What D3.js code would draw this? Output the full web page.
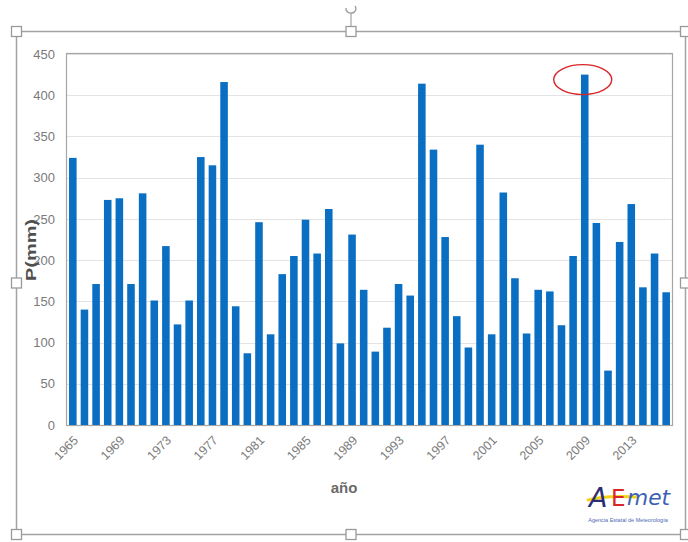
<!DOCTYPE html>
<html>
<head>
<meta charset="utf-8">
<script src="https://cdn.jsdelivr.net/npm/d3@7"></script>
<style>
  html, body { margin: 0; padding: 0; background: #fff; }
  svg { display: block; }
</style>
</head>
<body>
<svg id="chart" width="688" height="542"></svg>
<script>
// Annual precipitation (mm), 1965–2016
const years = d3.range(1965, 2017);
const precip = [
  324, 140, 171, 273, 275, 171, 281, 151, 217, 122,
  151, 325, 315, 416, 144, 87, 246, 110, 183, 205,
  249, 208, 262, 99, 231, 164, 89, 118, 171, 157,
  414, 334, 228, 132, 94, 340, 110, 282, 178, 111,
  164, 162, 121, 205, 425, 245, 66, 222, 268, 167,
  208, 161
];
const yTicks = [0, 50, 100, 150, 200, 250, 300, 350, 400, 450];
const xTickYears = d3.range(1965, 2017, 4);
const highlightYear = 2009;

const svg = d3.select("#chart");
const plot = { left: 67, right: 672, top: 54, bottom: 425 };

const x = d3.scaleBand()
  .domain(years)
  .range([plot.left, plot.right])
  .paddingInner(0.35)
  .paddingOuter(0.175);

const y = d3.scaleLinear()
  .domain([0, 450])
  .range([plot.bottom, plot.top]);

// outer chart frame with selection handles
const frame = { x0: 16.5, y0: 31.5, x1: 685.5, y1: 534.5 };
svg.append("rect")
  .attr("x", frame.x0).attr("y", frame.y0)
  .attr("width", frame.x1 - frame.x0).attr("height", frame.y1 - frame.y0)
  .attr("fill", "none").attr("stroke", "#a3a3a3").attr("stroke-width", 1.5);

// rotation handle
const cx = (frame.x0 + frame.x1) / 2;
svg.append("line")
  .attr("x1", cx).attr("x2", cx).attr("y1", 13).attr("y2", frame.y0)
  .attr("stroke", "#a3a3a3").attr("stroke-width", 1.2);
svg.append("path")
  .attr("d", `M${cx - 5},8 A5,4.5 0 1 0 ${cx + 4},6`)
  .attr("fill", "none").attr("stroke", "#9a9a9a").attr("stroke-width", 1.3);

const handles = [
  [frame.x0, frame.y0], [cx, frame.y0], [frame.x1, frame.y0],
  [frame.x0, 283], [frame.x1, 283],
  [frame.x0, frame.y1], [cx, frame.y1], [frame.x1, frame.y1]
];
svg.selectAll("rect.handle").data(handles).join("rect")
  .attr("class", "handle")
  .attr("x", d => d[0] - 5).attr("y", d => d[1] - 5)
  .attr("width", 10).attr("height", 10)
  .attr("fill", "#fff").attr("stroke", "#9a9a9a").attr("stroke-width", 1.3);

// gridlines
svg.append("g")
  .selectAll("line").data(yTicks.filter(t => t > 0)).join("line")
  .attr("x1", plot.left).attr("x2", plot.right)
  .attr("y1", d => Math.round(y(d)) + 0.5).attr("y2", d => Math.round(y(d)) + 0.5)
  .attr("stroke", "#e3e3e3").attr("stroke-width", 1);

// plot area border
svg.append("rect")
  .attr("x", plot.left - 0.5).attr("y", plot.top - 0.5)
  .attr("width", plot.right - plot.left + 1).attr("height", plot.bottom - plot.top + 1)
  .attr("fill", "none").attr("stroke", "#a6a6a6").attr("stroke-width", 1.2);

// bars
svg.append("g")
  .selectAll("rect").data(years.map((yr, i) => ({ yr, v: precip[i] }))).join("rect")
  .attr("x", d => x(d.yr))
  .attr("y", d => y(d.v))
  .attr("width", x.bandwidth())
  .attr("height", d => y(0) - y(d.v))
  .attr("fill", "#0a6fc2");

// y axis labels
const yAxis = d3.axisLeft(y).tickValues(yTicks).tickSize(0).tickPadding(12);
const gy = svg.append("g").attr("transform", `translate(${plot.left},0)`).call(yAxis);
gy.select(".domain").remove();
gy.selectAll("text")
  .attr("font-family", "Liberation Sans, Arial, sans-serif")
  .attr("font-size", 13).attr("fill", "#7a7a7a");

// x axis labels
const xAxis = d3.axisBottom(x).tickValues(xTickYears).tickSize(0).tickPadding(0);
const gx = svg.append("g").attr("transform", `translate(0,${plot.bottom})`).call(xAxis);
gx.select(".domain").remove();
gx.selectAll("text")
  .attr("font-family", "Liberation Sans, Arial, sans-serif")
  .attr("font-size", 12.5).attr("fill", "#7a7a7a")
  .attr("text-anchor", "end")
  .attr("dy", "0.35em")
  .attr("transform", "translate(3,13) rotate(-45)");

// axis titles
svg.append("text")
  .attr("transform", "translate(36,250) rotate(-90)")
  .attr("text-anchor", "middle")
  .attr("font-family", "Liberation Sans, Arial, sans-serif")
  .attr("font-size", 15).attr("font-weight", "bold").attr("fill", "#505050")
  .attr("textLength", 62).attr("lengthAdjust", "spacingAndGlyphs")
  .text("P(mm)");

svg.append("text")
  .attr("x", 344).attr("y", 493)
  .attr("text-anchor", "middle")
  .attr("font-family", "Liberation Sans, Arial, sans-serif")
  .attr("font-size", 15).attr("font-weight", "bold").attr("fill", "#6a6a6a")
  .text("año");

// highlight ring around the wettest year
svg.append("ellipse")
  .attr("cx", x(highlightYear) + x.bandwidth() / 2 - 2)
  .attr("cy", y(425) + 5)
  .attr("rx", 29).attr("ry", 15)
  .attr("fill", "none").attr("stroke", "#d9262b").attr("stroke-width", 1.4);

// AEMET logo
const logo = svg.append("g");
logo.append("path")
  .attr("d", "M588,500 C600,497 618,496 636,497")
  .attr("fill", "none").attr("stroke", "#f2d21b").attr("stroke-width", 3).attr("stroke-linecap", "round");
logo.append("text")
  .attr("x", 589).attr("y", 507)
  .attr("font-family", "DejaVu Sans, sans-serif").attr("font-style", "italic")
  .attr("font-size", 27).attr("font-weight", 200).attr("fill", "#2b2d78")
  .text("A");
logo.append("text")
  .attr("x", 611).attr("y", 506)
  .attr("font-family", "DejaVu Sans, sans-serif")
  .attr("font-size", 23).attr("fill", "#d8262a")
  .text("E");
logo.append("text")
  .attr("x", 627).attr("y", 505)
  .attr("font-family", "DejaVu Sans, sans-serif").attr("font-style", "italic")
  .attr("font-size", 22).attr("fill", "#3c5fb5")
  .attr("textLength", 43).attr("lengthAdjust", "spacingAndGlyphs")
  .text("met");
logo.append("text")
  .attr("x", 628).attr("y", 522)
  .attr("text-anchor", "middle")
  .attr("font-family", "Liberation Sans, Arial, sans-serif")
  .attr("font-size", 5.5).attr("fill", "#4a6ab5")
  .text("Agencia Estatal de Meteorología");
</script>
</body>
</html>
